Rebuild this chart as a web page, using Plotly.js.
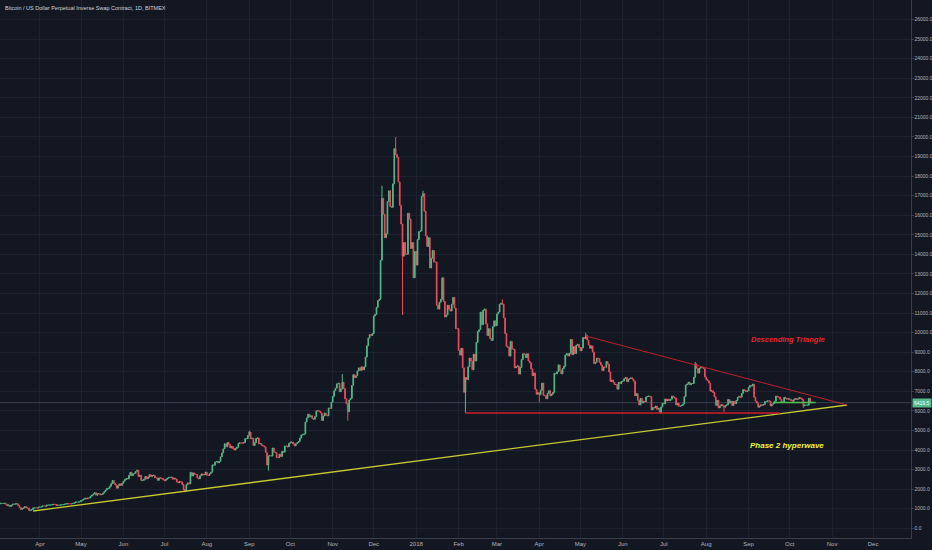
<!DOCTYPE html>
<html>
<head>
<meta charset="utf-8">
<script src="https://cdn.plot.ly/plotly-3.0.1.min.js"></script>
<style>
html,body{margin:0;padding:0;background:#131722;}
#chart{width:932px;height:550px;}
</style>
</head>
<body>
<div id="chart"></div>
<script>
// ---- Daily closes (USD), one array per month ----
const mar2017 = [1250,1280,1260,1270,1280,1230,1150,1190,1110,1180,1230,1240,1245,1255,1170,1070,960,1020,1045,1110,1040,1040,905,925,960,1045,1045,1040,1035,1080]; // from Mar 2
const apr2017 = [1090,1100,1145,1140,1130,1190,1190,1180,1205,1210,1225,1220,1170,1180,1185,1185,1205,1210,1230,1255,1260,1255,1250,1250,1265,1300,1340,1340,1345,1350];
const may2017 = [1420,1450,1490,1540,1510,1550,1555,1640,1700,1755,1820,1690,1760,1770,1710,1730,1800,1880,1960,2040,2040,2150,2280,2440,2300,2220,2050,2180,2270,2190,2300];
const jun2017 = [2410,2490,2540,2520,2700,2860,2690,2790,2810,2900,2960,2650,2710,2440,2450,2510,2650,2530,2610,2740,2640,2700,2710,2580,2570,2450,2580,2570,2540,2480];
const jul2017 = [2430,2500,2560,2600,2610,2610,2510,2560,2520,2370,2330,2400,2370,2230,1980,1930,2230,2320,2270,2860,2670,2830,2760,2750,2570,2530,2680,2780,2720,2750,2870];
const aug2017 = [2710,2700,2800,2870,3240,3220,3390,3420,3340,3420,3650,3850,4060,4320,4160,4380,4280,4110,4190,4080,4000,4080,4140,4330,4370,4350,4350,4380,4580,4580,4740];
const sep2017 = [4920,4580,4600,4230,4380,4600,4620,4310,4330,4240,4210,4160,3870,3230,3700,3710,3690,4100,3900,3870,3620,3610,3790,3670,3930,3890,4210,4190,4160,4340];
const oct2017 = [4400,4410,4310,4210,4320,4370,4440,4610,4770,4780,4820,5430,5640,5830,5690,5750,5600,5570,5710,6000,6010,5980,5900,5510,5740,5890,5770,5750,6150,6130,6450];
const nov2017 = [6740,7030,7160,7380,7410,6980,7120,7460,7140,6620,6360,5950,6560,6640,7300,7850,7700,7790,8040,8200,8070,8250,8090,8250,8750,9330,9720,9900,9850,9950];
const dec2017 = [10850,10930,11290,11640,11700,13700,16850,16050,14850,15050,16700,17250,16450,16400,17600,19400,19100,18950,17700,16500,15550,13900,14600,14000,14000,16100,15800,14300,14600,12800,14150];
const jan2018 = [13450,14750,15160,15200,16950,17100,16200,14950,14400,14850,13300,13800,14200,13600,13600,11400,11200,11550,11700,12800,11600,10800,10900,11400,11200,11100,11450,11800,11250,10200,10200];
const feb2018 = [9100,8850,9200,8200,6950,7700,7600,8250,8700,8550,8100,8900,8550,9500,10050,10150,11050,10400,11150,11200,10450,9850,10200,9700,9600,10300,10600,10350];
const mar2018 = [10950,11050,11450,11500,11450,10750,9950,9300,9250,8800,9550,9150,9150,8200,8250,8300,7880,8220,8620,8920,8900,8720,8920,8550,8460,8150,7800,7940,7100,6850,6930];
const apr2018 = [6820,7060,7420,6800,6780,6620,6900,7030,6770,6850,6950,7920,7890,8000,8350,8060,7890,8170,8280,8860,8930,8800,8940,9650,8870,9280,8930,9350,9400,9240];
const may2018 = [9070,9220,9750,9700,9850,9620,9370,9200,9320,9010,8420,8480,8700,8670,8480,8340,8060,8240,8230,8520,8390,7990,7500,7580,7460,7340,7350,7110,7460,7390,7500];
const jun2018 = [7520,7640,7710,7490,7620,7650,7690,7620,7520,6770,6880,6540,6300,6640,6400,6490,6460,6710,6740,6760,6720,6050,6170,6150,6250,6080,6130,5900,6200,6390];
const jul2018 = [6350,6610,6510,6590,6530,6600,6760,6710,6660,6300,6390,6240,6250,6280,6350,6730,7320,7370,7470,7330,7400,7400,7720,8400,8180,7930,8180,8230,8210,8170,7730];
const aug2018 = [7600,7540,7420,7010,7030,6940,6720,6280,6540,6150,6250,6320,6260,6190,6270,6310,6580,6400,6500,6270,6480,6370,6530,6690,6740,6700,6900,7090,7040,6980,7020];
const sep2018 = [7200,7300,7270,7370,6700,6500,6400,6190,6250,6310,6290,6330,6480,6480,6520,6500,6250,6340,6380,6490,6760,6720,6710,6590,6440,6460,6690,6640,6600,6620];
const oct2018 = [6590,6520,6490,6580,6630,6590,6610,6680,6640,6570,6250,6300,6300,6290,6650,6460,6419.5];

const monthStarts = ['2017-03-02','2017-04-01','2017-05-01','2017-06-01','2017-07-01','2017-08-01','2017-09-01','2017-10-01','2017-11-01','2017-12-01','2018-01-01','2018-02-01','2018-03-01','2018-04-01','2018-05-01','2018-06-01','2018-07-01','2018-08-01','2018-09-01','2018-10-01'];
const monthCloses = [mar2017,apr2017,may2017,jun2017,jul2017,aug2017,sep2017,oct2017,nov2017,dec2017,jan2018,feb2018,mar2018,apr2018,may2018,jun2018,jul2018,aug2018,sep2018,oct2018];
const firstOpen = 1240;

// notable wicks
const highWickDates = ['2017-06-11','2017-09-01','2017-11-08','2017-12-07','2017-12-17','2018-01-06','2018-03-05','2018-05-05','2018-07-24'];
const highWickPrices = [2990,4980,7880,17500,20000,17250,11700,9990,8500];
const lowWickDates = ['2017-03-25','2017-07-16','2017-09-15','2017-11-12','2017-12-22','2018-02-06','2018-04-01','2018-06-29','2018-08-14','2018-10-11'];
const lowWickPrices = [880,1840,2950,5500,10900,5900,6450,5850,5950,6150];

// trend lines
const resistDates = ['2018-05-05','2018-11-12'];
const resistPrices = [9826,6300];
const supportDates = ['2018-02-06','2018-09-24'];
const supportPrices = [5892,5892];
const hyperDates = ['2017-03-27','2018-11-12'];
const hyperPrices = [884,6300];
const rangeDates = ['2018-09-19','2018-10-20'];
const rangePrices = [6428,6428];

// x ticks
const tickDates = ['2017-04-01','2017-05-01','2017-06-01','2017-07-01','2017-08-01','2017-09-01','2017-10-01','2017-11-01','2017-12-01','2018-01-01','2018-02-01','2018-03-01','2018-04-01','2018-05-01','2018-06-01','2018-07-01','2018-08-01','2018-09-01','2018-10-01','2018-11-01','2018-12-01'];
const tickLabels = ['Apr','May','Jun','Jul','Aug','Sep','Oct','Nov','Dec','2018','Feb','Mar','Apr','May','Jun','Jul','Aug','Sep','Oct','Nov','Dec'];

// ---- build candles ----
function dayStr(start, i){
  const p = start.split('-').map(Number);
  const d = new Date(Date.UTC(p[0], p[1]-1, p[2] + i));
  return d.toISOString().slice(0,10);
}
const X=[],O=[],H=[],L=[],C=[];
let prev = firstOpen;
monthCloses.forEach((arr, m) => {
  arr.forEach((c, i) => {
    const ds = dayStr(monthStarts[m], i);
    X.push(ds); O.push(prev); C.push(c);
    let hi = Math.max(prev, c), lo = Math.min(prev, c);
    const hw = highWickDates.indexOf(ds); if (hw >= 0) hi = Math.max(hi, highWickPrices[hw]);
    const lw = lowWickDates.indexOf(ds); if (lw >= 0) lo = Math.min(lo, lowWickPrices[lw]);
    H.push(hi); L.push(lo);
    prev = c;
  });
});
const lastPrice = C[C.length-1];

const traces = [
  {type:'candlestick', x:X, open:O, high:H, low:L, close:C,
   increasing:{line:{color:'#53b987', width:1}, fillcolor:'#53b987'},
   decreasing:{line:{color:'#eb4d5c', width:1}, fillcolor:'#eb4d5c'},
   whiskerwidth:0, hoverinfo:'skip'},
  {type:'scatter', mode:'lines', x:hyperDates, y:hyperPrices, line:{color:'#c8c832', width:1.3}, hoverinfo:'skip'},
  {type:'scatter', mode:'lines', x:resistDates, y:resistPrices, line:{color:'#c0202a', width:1}, hoverinfo:'skip'},
  {type:'scatter', mode:'lines', x:supportDates, y:supportPrices, line:{color:'#d0202a', width:1.5}, hoverinfo:'skip'},
  {type:'scatter', mode:'lines', x:rangeDates, y:rangePrices, line:{color:'#3cd03c', width:1.5}, hoverinfo:'skip'}
];

const layout = {
  width:932, height:550,
  paper_bgcolor:'#131722', plot_bgcolor:'#131722',
  margin:{l:0, r:21, t:0, b:12},
  showlegend:false,
  font:{family:'"Liberation Sans", Arial, sans-serif', color:'#b2b5be'},
  xaxis:{type:'date', range:['2017-03-02 19:00','2018-12-28 17:00'],
    tickmode:'array', tickvals:tickDates, ticktext:tickLabels,
    tickfont:{size:6, color:'#b2b5be'}, ticks:'', ticklen:0,
    showgrid:true, gridcolor:'#1d2130', gridwidth:1,
    showline:true, linecolor:'#3a3e4a', linewidth:1,
    zeroline:false, rangeslider:{visible:false}, fixedrange:true},
  yaxis:{side:'right', range:[-496, 26996], tick0:0, dtick:1000, tickformat:'.1f',
    tickfont:{size:5, color:'#b2b5be'}, ticks:'outside', ticklen:1.5, tickcolor:'#3a3e4a',
    ticklabelstandoff:0,
    showgrid:true, gridcolor:'#1d2130', gridwidth:1,
    showline:true, linecolor:'#3a3e4a', linewidth:1,
    zeroline:false, fixedrange:true},
  shapes:[
    {type:'line', xref:'paper', x0:0, x1:1, yref:'y', y0:lastPrice, y1:lastPrice,
     line:{color:'rgba(130,140,160,0.35)', width:1}}
  ],
  annotations:[
    {xref:'paper', yref:'paper', x:0.003, y:0.995, xanchor:'left', yanchor:'top', showarrow:false,
     text:'Bitcoin / US Dollar Perpetual Inverse Swap Contract, 1D, BITMEX',
     font:{size:5.5, color:'#d1d4dc'}},
    {xref:'x', yref:'y', x:'2018-09-30', y:9673, showarrow:false,
     text:'<b><i>Descending Triangle</i></b>', font:{size:7.5, color:'#e8232a'}},
    {xref:'x', yref:'y', x:'2018-09-29', y:4256, showarrow:false,
     text:'<b><i>Phase 2 hyperwave</i></b>', font:{size:8, color:'#f2f23a'}},
    {xref:'paper', yref:'y', x:1, y:lastPrice, xanchor:'left', yanchor:'middle', showarrow:false,
     text:lastPrice.toFixed(1), bgcolor:'#53b987', borderpad:1, xshift:1,
     font:{size:5, color:'#ffffff'}}
  ]
};

Plotly.newPlot('chart', traces, layout, {staticPlot:true, displayModeBar:false});
</script>
</body>
</html>
